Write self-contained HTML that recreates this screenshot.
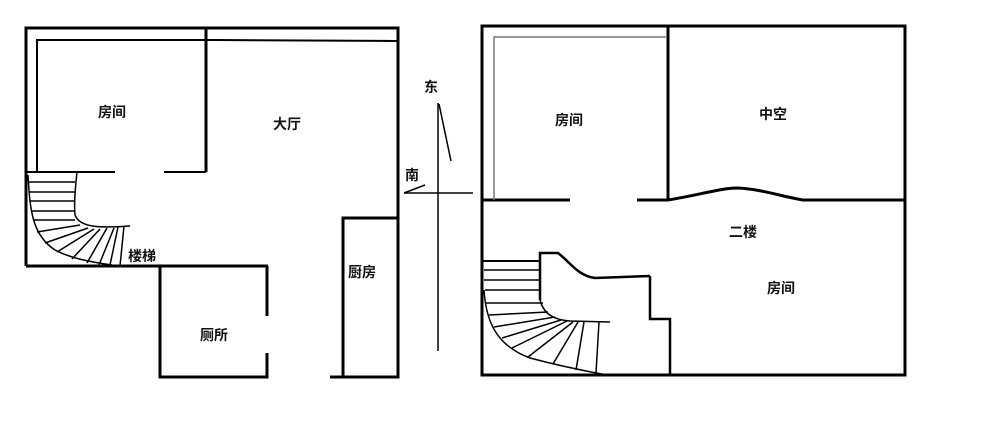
<!DOCTYPE html>
<html><head><meta charset="utf-8"><style>
body{margin:0;background:#fff}
svg text{font-family:"Liberation Sans","Noto Sans CJK SC",sans-serif;font-size:14px;font-weight:bold;fill:#111}
</style></head><body>
<svg width="1000" height="418" xmlns="http://www.w3.org/2000/svg">
<g stroke="#000" fill="none" stroke-width="3">
<!-- left plan -->
<polyline points="26,266 26,28 398,28 398,377 330,377"/>
<line x1="26" y1="266" x2="268" y2="266"/>
<polyline points="267,316 267,266"/>
<polyline points="267,353 267,377 160,377 160,266"/>
<polyline points="343,377 343,218 398,218"/>
<line x1="206" y1="28" x2="206" y2="172"/>
<polyline points="37,172 37,40 216,40 397,41" stroke-width="2"/>
<line x1="26" y1="172" x2="115" y2="172" stroke-width="2"/>
<line x1="164" y1="172" x2="206" y2="172" stroke-width="2"/>
</g>
<g stroke="#000" fill="none" stroke-width="1.5">
<path d="M28,175 C30,210 32,235 55,250 C70,258 90,262 112,265"/>
<path d="M77,172 C75,190 74,205 75,215 C80,228 100,228 130,226"/>
<line x1="28" y1="182" x2="75" y2="182"/><line x1="29" y1="192" x2="75" y2="192"/>
<line x1="30" y1="201" x2="74" y2="201"/><line x1="31" y1="211" x2="74" y2="211"/>
<line x1="33" y1="220" x2="75" y2="220"/>
<line x1="37" y1="232" x2="80" y2="225"/><line x1="45" y1="243" x2="88" y2="228"/>
<line x1="57" y1="252" x2="94" y2="229"/><line x1="72" y1="259" x2="100" y2="229"/>
<line x1="87" y1="263" x2="107" y2="228"/><line x1="99" y1="265" x2="114" y2="228"/>
<line x1="110" y1="265" x2="118" y2="227"/><line x1="120" y1="266" x2="124" y2="226"/>
<!-- compass -->
<line x1="438" y1="103" x2="438" y2="351"/>
<line x1="404" y1="193" x2="473" y2="193"/>
<line x1="439" y1="104" x2="451" y2="161"/>
<line x1="404" y1="193" x2="425" y2="185"/>
</g>
<g stroke="#000" fill="none" stroke-width="3">
<!-- right plan -->
<rect x="482" y="26" width="423" height="349"/>
<line x1="668" y1="26" x2="668" y2="200"/>
<line x1="482" y1="200" x2="570" y2="200"/>
<line x1="637" y1="200" x2="668" y2="200"/>
<path d="M668,200 C700,195 720,188 738,188 C760,189 780,196 803,200 L905,200"/>
<polyline points="650,276 650,319 670,319 670,375" stroke-width="2.5"/>
<polyline points="482,261 540,261" stroke-width="2"/>
<path d="M540,300 L540,253 L558,253 C570,262 578,276 595,278 L650,276" stroke-width="2.5"/>
</g>
<polyline points="494,200 494,37 666,37" stroke="#777" fill="none" stroke-width="1.5"/>
<g stroke="#000" fill="none" stroke-width="1.5">
<path d="M484,290 C486,320 495,345 530,358 C560,366 585,371 607,375"/>
<path d="M540,300 C544,315 555,320 570,321 L610,322"/>
<line x1="484" y1="270" x2="540" y2="270"/><line x1="484" y1="280" x2="540" y2="280"/>
<line x1="485" y1="290" x2="541" y2="290"/><line x1="486" y1="303" x2="543" y2="303"/>
<line x1="489" y1="315" x2="548" y2="312"/>
<line x1="494" y1="327" x2="555" y2="317"/><line x1="502" y1="338" x2="561" y2="320"/>
<line x1="512" y1="348" x2="567" y2="321"/><line x1="528" y1="357" x2="573" y2="322"/>
<line x1="553" y1="364" x2="578" y2="322"/><line x1="576" y1="370" x2="584" y2="322"/>
<line x1="596" y1="373" x2="599" y2="322"/>
</g>
<text x="98" y="117">房间</text>
<text x="273" y="129">大厅</text>
<text x="128" y="261">楼梯</text>
<text x="348" y="277">厨房</text>
<text x="200" y="340">厕所</text>
<text x="424" y="92">东</text>
<text x="405" y="180">南</text>
<text x="555" y="125">房间</text>
<text x="759" y="119">中空</text>
<text x="729" y="237">二楼</text>
<text x="767" y="293">房间</text>
</svg>
</body></html>
